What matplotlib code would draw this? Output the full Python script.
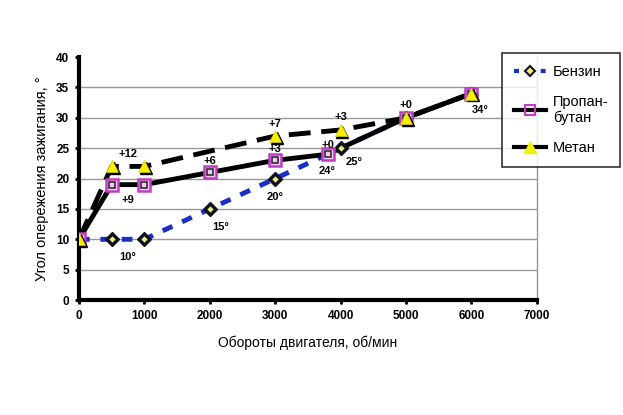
import numpy as np
import matplotlib
matplotlib.use("Agg")
import matplotlib.pyplot as plt
import matplotlib.transforms as mtrans
from matplotlib.lines import Line2D

plt.rcParams['font.family'] = ['Liberation Sans', 'DejaVu Sans']

# data
rpm_benz = [0, 500, 1000, 2000, 3000, 4000, 5000, 6000]
angle_benz = [10, 10, 10, 15, 20, 25, 30, 34]

rpm_prop = [0, 500, 1000, 2000, 3000, 3800, 5000, 6000]
angle_prop = [10, 19, 19, 21, 23, 24, 30, 34]

rpm_met = [0, 500, 1000, 3000, 4000, 5000, 6000]
angle_met = [10, 22, 22, 27, 28, 30, 34]

x_ticks = [0, 1000, 2000, 3000, 4000, 5000, 6000, 7000]
y_ticks = [0, 5, 10, 15, 20, 25, 30, 35, 40]

# point labels: text, anchor x, anchor y
note_text = ['+12', '+9', '+6', '+7', '+3', '+3', '+0', '+0',
             '10°', '15°', '20°', '24°', '25°', '34°']
note_x = [750, 750, 2000, 3000, 3000, 4000, 3800, 5000,
          750, 2000, 3000, 3800, 4000, 6000]
note_y = [22, 19, 21, 27, 23, 28, 24, 30,
          10, 15, 20, 24, 25, 34]
# offsets in points
note_dx = [0, 0, 0, 0, 0, 0, 0, 0, 0, 8, 0, 0, 10, 6]
note_dy = [9, -11, 8, 9, 8, 9, 7, 9, -13, -13, -13, -12, -10, -12]

fig = plt.figure(figsize=(6.23, 4.15), dpi=100)
ax = fig.add_axes([0.1268, 0.277, 0.735, 0.5855])

ax.set_xlim(0, 7000)
ax.set_ylim(0, 40)
ax.set_xticks(x_ticks)
ax.set_yticks(y_ticks)
for y in y_ticks[1:-1]:
    ax.axhline(y, color='#999999', lw=1.0, zorder=0)

# lines
ax.plot(rpm_benz, angle_benz, color='#1a2fc8', lw=3.5, ls=(0, (2.2, 2.2)), zorder=2)
ax.plot(rpm_prop, angle_prop, color='black', lw=3.5, ls='-', zorder=3)
ax.plot(rpm_met, angle_met, color='black', lw=3.5, ls=(0, (4.5, 2.2)), zorder=4)

# markers
ax.plot(rpm_benz, angle_benz, ls='none', marker='D', ms=7.5, mfc='#111122',
        mec='#111122', zorder=5)
ax.plot(rpm_benz, angle_benz, ls='none', marker='D', ms=3.2, mfc='#e6f07a',
        mec='none', zorder=6)
ax.plot(rpm_prop, angle_prop, ls='none', marker='s', ms=8.5, mfc='#f0c8f0',
        mec='#c03cc0', mew=1.8, zorder=7)
ax.plot(rpm_prop, angle_prop, ls='none', marker='s', ms=4.2, mfc='none',
        mec='#222222', mew=1.1, zorder=8)
shadow = ax.transData + mtrans.ScaledTranslation(1.3 / 72, -1.3 / 72, fig.dpi_scale_trans)
ax.plot(rpm_met, angle_met, ls='none', marker='^', ms=9, mfc='black',
        mec='black', transform=shadow, zorder=9)
ax.plot(rpm_met, angle_met, ls='none', marker='^', ms=9, mfc='#f5f000',
        mec='#d8d000', mew=0.5, zorder=10)

for t, x, y, dx, dy in zip(note_text, note_x, note_y, note_dx, note_dy):
    ax.annotate(t, (x, y), xytext=(dx, dy), textcoords='offset points',
                ha='center', va='center', fontsize=8, fontweight='bold',
                zorder=11)

# axes style
ax.spines['top'].set_visible(False)
ax.spines['right'].set_color('#999999')
ax.spines['right'].set_linewidth(1.0)
ax.spines['left'].set_linewidth(3)
ax.spines['bottom'].set_linewidth(3)
ax.tick_params(axis='both', direction='out', length=3, width=2, labelsize=8.5,
               pad=4)
for lab in ax.get_xticklabels() + ax.get_yticklabels():
    lab.set_fontweight('bold')
ax.set_xlabel('Обороты двигателя, об/мин', fontsize=10, labelpad=10)
ax.set_ylabel('Угол опережения зажигания, °', fontsize=10.5, labelpad=5)

# legend
h1 = Line2D([], [], color='#1a2fc8', lw=3, ls=(0, (1.2, 2.0)), marker='D', ms=5,
            mfc='#e6f07a', mec='#111122', mew=1.5)
h2 = Line2D([], [], color='black', lw=3, marker='s', ms=7, mfc='none',
            mec='#c03cc0', mew=1.5)
h3 = Line2D([], [], color='black', lw=3, marker='^', ms=8, mfc='#f5f000',
            mec='#f5f000')
leg = fig.legend([h1, h2, h3], ['Бензин', 'Пропан-\nбутан', 'Метан'],
                 loc='upper left', bbox_to_anchor=(502 / 623, 1 - 53 / 415),
                 frameon=True, fancybox=False, edgecolor='black',
                 fontsize=10.5, handlelength=2.2, labelspacing=1.1,
                 borderpad=0.8, handletextpad=0.5, borderaxespad=0)
leg.get_frame().set_linewidth(1.2)
leg.set_zorder(20)

fig.savefig('out.png', dpi=100)
